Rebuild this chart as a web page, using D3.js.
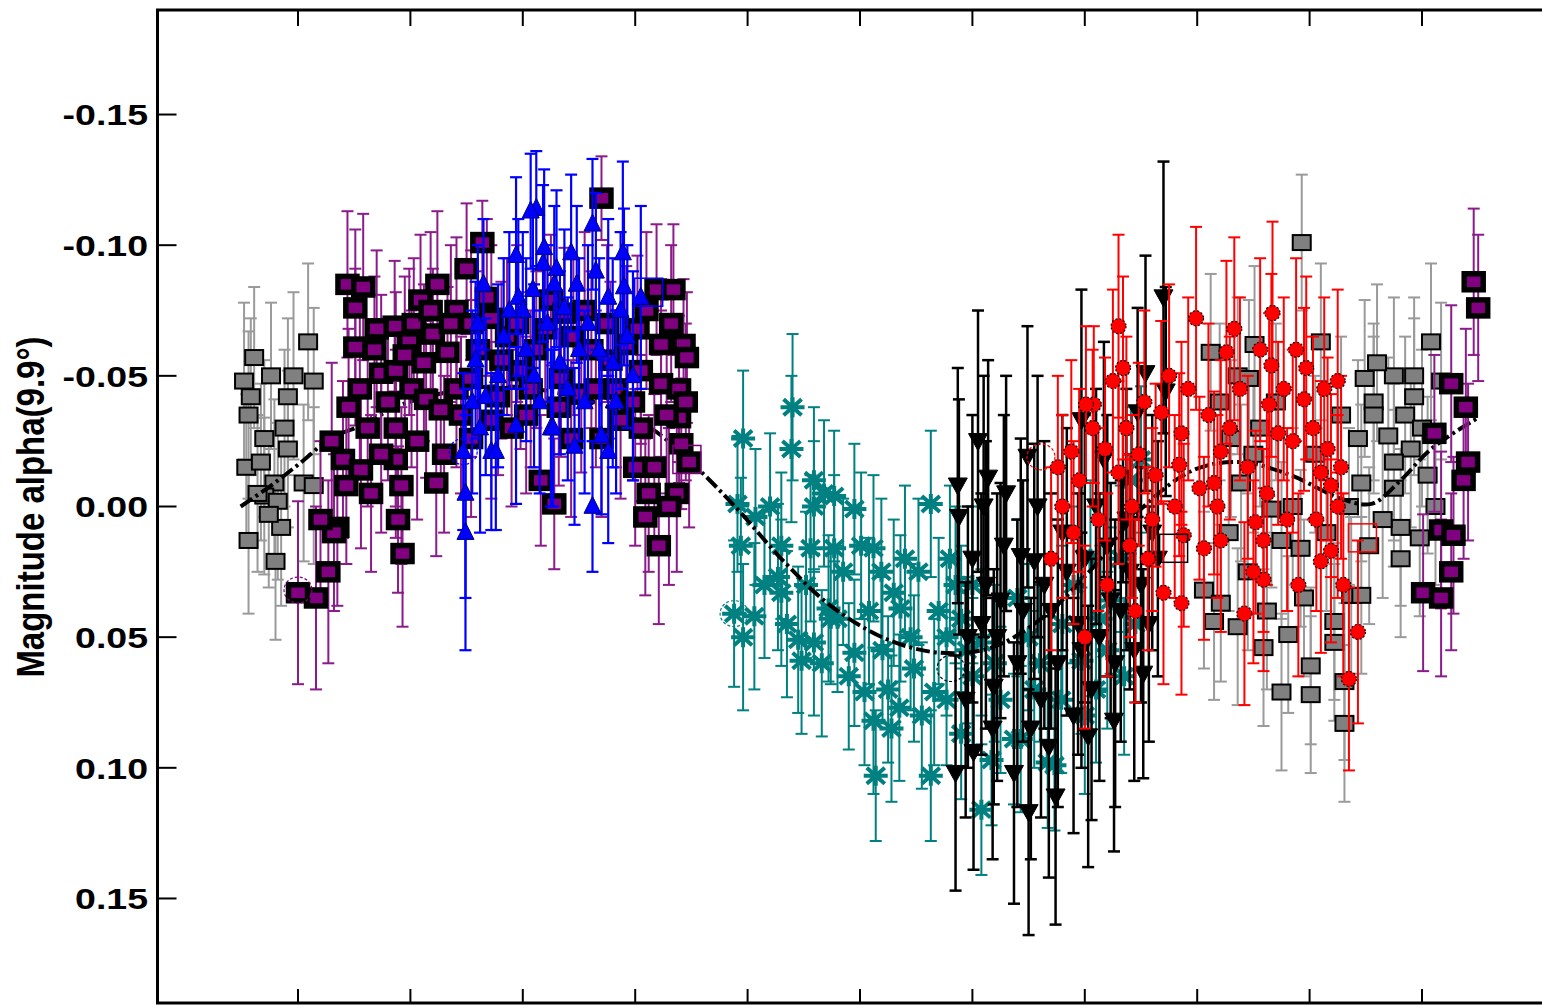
<!DOCTYPE html>
<html>
<head>
<meta charset="utf-8">
<script src="https://cdn.jsdelivr.net/npm/d3@7"></script>
<style>
  html, body { margin: 0; padding: 0; background: #fff; overflow: hidden; }
  svg { display: block; }
</style>
</head>
<body>
<div id="chart"></div>
<script>
// each point: [phase, magnitude, error]
const grayPts = [
  [-0.039,-0.057,0.027], [-0.048,-0.048,0.030], [-0.024,-0.050,0.028], [-0.004,-0.050,0.032],
  [0.009,-0.063,0.030], [0.014,-0.048,0.028], [-0.042,-0.042,0.030], [-0.044,-0.035,0.032],
  [-0.009,-0.042,0.030], [-0.030,-0.026,0.030], [-0.046,-0.015,0.028], [-0.033,-0.017,0.030],
  [-0.009,-0.022,0.030], [-0.021,-0.009,0.032], [-0.030,-0.004,0.030], [-0.018,-0.002,0.030],
  [-0.015,0.008,0.030], [-0.044,0.013,0.028], [-0.020,0.021,0.030], [0.005,-0.009,0.030],
  [0.014,-0.008,0.030], [-0.026,0.003,0.028], [-0.036,-0.005,0.030], [-0.012,-0.030,0.030],
  [0.893,-0.101,0.026], [0.910,-0.063,0.030], [0.851,-0.062,0.030], [1.008,-0.063,0.030],
  [0.812,-0.059,0.030], [0.949,-0.049,0.030], [0.975,-0.050,0.030], [0.993,-0.050,0.030],
  [1.017,-0.048,0.030], [0.993,-0.042,0.030], [0.957,-0.040,0.030], [0.957,-0.035,0.030],
  [0.836,-0.050,0.030], [0.943,-0.026,0.030], [0.970,-0.027,0.030], [0.990,-0.022,0.030],
  [0.975,-0.017,0.030], [0.975,-0.007,0.030], [0.946,-0.009,0.030], [0.981,0.008,0.030],
  [0.981,0.020,0.030], [0.806,0.032,0.030], [0.821,0.037,0.030], [0.836,0.046,0.030],
  [0.815,0.044,0.030], [0.881,0.049,0.030], [0.859,0.054,0.030], [0.901,0.061,0.030],
  [0.922,0.044,0.030], [0.922,0.052,0.030], [0.937,0.034,0.030], [0.946,0.034,0.030],
  [0.866,0.001,0.030], [0.875,0.013,0.030], [0.892,0.016,0.030], [0.839,-0.009,0.030],
  [0.875,0.071,0.030], [0.901,0.072,0.030], [0.931,0.083,0.030], [0.931,0.067,0.030],
  [0.846,-0.049,0.030], [0.830,-0.026,0.030], [0.856,-0.030,0.030],
  [0.820,-0.040,0.030], [0.828,0.010,0.030], [0.845,0.025,0.030], [0.850,-0.020,0.030],
  [0.862,0.040,0.030], [0.870,-0.040,0.030], [0.885,0.000,0.030], [0.895,0.035,0.030],
  [0.905,-0.020,0.030], [0.915,0.010,0.030], [0.928,-0.035,0.030], [0.935,0.000,0.030],
  [0.953,0.015,0.030], [0.960,-0.055,0.030], [0.965,0.005,0.030], [0.985,-0.035,0.030],
  [1.000,-0.030,0.030], [1.005,-0.012,0.030], [1.012,0.000,0.030], [0.998,0.012,0.030]
];

const purplePts = [
  [0.270,-0.118,0.016], [0.164,-0.101,0.016], [0.150,-0.091,0.025], [0.044,-0.085,0.028],
  [0.058,-0.084,0.028], [0.124,-0.085,0.028], [0.051,-0.076,0.030], [0.109,-0.079,0.025],
  [0.103,-0.070,0.025], [0.086,-0.069,0.025], [0.068,-0.060,0.028], [0.120,-0.066,0.025],
  [0.133,-0.059,0.025], [0.141,-0.075,0.028], [0.154,-0.070,0.028], [0.172,-0.072,0.028],
  [0.225,-0.079,0.025], [0.237,-0.074,0.025], [0.319,-0.083,0.025], [0.334,-0.083,0.025],
  [0.343,-0.062,0.025], [0.346,-0.057,0.025], [0.323,-0.062,0.025], [0.302,-0.068,0.028],
  [0.305,-0.052,0.028], [0.323,-0.047,0.028], [0.339,-0.045,0.028], [0.339,-0.034,0.025],
  [0.341,-0.024,0.025], [0.305,-0.030,0.028], [0.317,-0.015,0.028], [0.337,-0.005,0.030],
  [0.348,-0.017,0.025], [0.312,-0.005,0.030], [0.309,0.004,0.030], [0.321,0.015,0.030],
  [0.216,-0.010,0.025], [0.228,-0.001,0.025], [0.123,-0.009,0.028], [0.089,0.005,0.028],
  [0.093,0.018,0.028], [0.035,0.008,0.030], [0.040,-0.018,0.030], [0.027,0.025,0.035],
  [0.016,0.035,0.035], [0.000,0.033,0.035], [0.032,0.010,0.030], [0.045,-0.038,0.030],
  [0.055,-0.045,0.030], [0.074,-0.051,0.030], [0.087,-0.052,0.030], [0.101,-0.045,0.030],
  [0.087,-0.030,0.030], [0.114,-0.041,0.030], [0.127,-0.037,0.030], [0.141,-0.045,0.030],
  [0.154,-0.049,0.030], [0.181,-0.056,0.030], [0.198,-0.052,0.030], [0.207,-0.045,0.030],
  [0.234,-0.049,0.030], [0.252,-0.043,0.030], [0.261,-0.060,0.030], [0.278,-0.056,0.030],
  [0.287,-0.033,0.030], [0.270,-0.026,0.030], [0.243,-0.026,0.030], [0.190,-0.030,0.030],
  [0.172,-0.033,0.030], [0.154,-0.026,0.030], [0.087,-0.018,0.030], [0.074,-0.020,0.030],
  [0.056,-0.014,0.030], [0.092,-0.008,0.030], [0.065,-0.005,0.030], [0.043,-0.008,0.030],
  [0.051,-0.061,0.030], [0.099,-0.063,0.028],
  [0.020,0.005,0.030], [0.030,-0.025,0.030], [0.062,-0.030,0.030], [0.070,-0.068,0.030],
  [0.080,-0.040,0.030], [0.095,-0.058,0.030], [0.106,-0.025,0.030], [0.112,-0.055,0.030],
  [0.118,-0.075,0.030], [0.130,-0.020,0.030], [0.136,-0.070,0.030], [0.145,-0.035,0.030],
  [0.160,-0.060,0.030], [0.168,-0.080,0.030], [0.178,-0.042,0.030], [0.186,-0.065,0.030],
  [0.195,-0.070,0.030], [0.203,-0.035,0.030], [0.212,-0.060,0.030], [0.220,-0.068,0.030],
  [0.232,-0.038,0.030], [0.245,-0.065,0.030], [0.255,-0.075,0.030], [0.265,-0.045,0.030],
  [0.275,-0.070,0.030], [0.283,-0.045,0.030], [0.292,-0.062,0.030], [0.298,-0.040,0.030],
  [0.310,-0.075,0.030], [0.328,-0.035,0.030], [0.332,-0.070,0.030], [0.300,-0.015,0.030],
  [0.330,0.000,0.030], [0.345,-0.040,0.030],
  [1.046,-0.086,0.028], [1.050,-0.076,0.028], [1.026,-0.047,0.030], [1.039,-0.038,0.030],
  [1.011,-0.028,0.030], [1.041,-0.017,0.030], [1.037,-0.010,0.030], [1.017,0.009,0.030],
  [1.028,0.011,0.030], [1.026,0.025,0.030], [1.001,0.033,0.030], [1.017,0.035,0.030]
];

const bluePts = [
  [0.212,-0.114,0.022], [0.207,-0.113,0.022], [0.262,-0.108,0.025], [0.289,-0.097,0.035],
  [0.194,-0.096,0.030], [0.219,-0.099,0.030], [0.243,-0.097,0.030], [0.218,-0.093,0.030],
  [0.230,-0.091,0.030], [0.265,-0.090,0.030], [0.165,-0.085,0.025], [0.196,-0.080,0.030],
  [0.209,-0.083,0.030], [0.228,-0.085,0.030], [0.290,-0.084,0.030], [0.200,-0.075,0.030],
  [0.237,-0.076,0.030], [0.276,-0.080,0.030], [0.287,-0.075,0.030], [0.305,-0.080,0.035],
  [0.158,-0.056,0.030], [0.167,-0.042,0.030], [0.194,-0.031,0.030], [0.225,-0.030,0.030],
  [0.270,-0.027,0.030], [0.246,-0.023,0.030], [0.147,-0.021,0.030], [0.149,-0.005,0.040],
  [0.149,0.010,0.045], [0.172,-0.021,0.030], [0.176,-0.021,0.030], [0.262,0.000,0.025],
  [0.276,-0.021,0.035], [0.227,-0.030,0.030], [0.183,-0.065,0.030], [0.160,-0.070,0.030],
  [0.250,-0.060,0.035], [0.280,-0.055,0.040], [0.210,-0.050,0.035], [0.240,-0.045,0.035],
  [0.178,-0.050,0.035], [0.188,-0.075,0.030], [0.203,-0.060,0.035], [0.215,-0.040,0.035],
  [0.222,-0.070,0.030], [0.233,-0.055,0.035], [0.248,-0.085,0.030], [0.255,-0.040,0.035],
  [0.258,-0.070,0.030], [0.268,-0.060,0.035], [0.283,-0.040,0.035], [0.293,-0.065,0.035],
  [0.298,-0.050,0.040], [0.155,-0.040,0.035], [0.162,-0.030,0.040]
];

const tealPts = [
  [0.396,-0.026,0.026], [0.440,-0.038,0.028], [0.439,-0.022,0.028], [0.391,-0.001,0.026],
  [0.407,0.004,0.026], [0.394,0.015,0.026], [0.459,-0.010,0.028], [0.468,-0.005,0.028],
  [0.477,-0.004,0.025], [0.495,0.001,0.025], [0.459,0.000,0.025], [0.430,0.015,0.028],
  [0.456,0.016,0.028], [0.477,0.016,0.028], [0.501,0.015,0.028], [0.512,0.016,0.028],
  [0.563,-0.001,0.028], [0.519,0.025,0.028], [0.552,0.025,0.028], [0.427,0.027,0.028],
  [0.430,0.033,0.028], [0.406,0.042,0.028], [0.388,0.041,0.028], [0.396,0.050,0.028],
  [0.472,0.039,0.028], [0.480,0.043,0.028], [0.530,0.033,0.028], [0.536,0.039,0.028],
  [0.445,0.051,0.028], [0.459,0.052,0.028], [0.448,0.059,0.028], [0.474,0.043,0.025],
  [0.504,0.071,0.028], [0.525,0.070,0.028], [0.495,0.056,0.028], [0.548,0.062,0.028],
  [0.566,0.071,0.028], [0.535,0.077,0.028], [0.512,0.082,0.028], [0.514,0.103,0.025],
  [0.563,0.103,0.025], [0.608,0.116,0.025], [0.673,0.099,0.025], [0.637,0.089,0.025],
  [0.617,0.097,0.025], [0.590,0.087,0.025], [0.577,0.074,0.025], [0.625,0.074,0.028],
  [0.643,0.089,0.028], [0.667,0.098,0.025], [0.679,0.074,0.028], [0.697,0.059,0.028],
  [0.710,0.070,0.028], [0.714,0.043,0.028], [0.723,0.036,0.028], [0.732,0.020,0.028],
  [0.741,-0.010,0.028], [0.750,-0.018,0.028], [0.590,0.043,0.028], [0.608,0.052,0.028],
  [0.650,0.050,0.028], [0.690,0.030,0.030], [0.660,0.060,0.030], [0.600,0.065,0.030],
  [0.577,0.050,0.030],
  [0.600,0.030,0.030], [0.620,0.060,0.030], [0.640,0.035,0.030], [0.655,0.070,0.030],
  [0.680,0.045,0.030], [0.700,0.080,0.030], [0.720,0.055,0.030], [0.735,0.065,0.030],
  [0.745,0.045,0.030], [0.705,0.020,0.030], [0.585,0.030,0.030], [0.595,0.055,0.028],
  [0.420,0.000,0.028], [0.435,0.045,0.028], [0.452,0.030,0.028], [0.466,0.060,0.028],
  [0.485,0.025,0.028], [0.490,0.065,0.028], [0.508,0.040,0.028], [0.520,0.055,0.028],
  [0.540,0.020,0.028], [0.545,0.050,0.028], [0.555,0.080,0.028], [0.570,0.040,0.028],
  [0.580,0.020,0.028], [0.528,0.085,0.028], [0.415,0.030,0.028]
];

const blackPts = [
  [0.587,-0.008,0.045], [0.588,0.004,0.045], [0.605,-0.025,0.050], [0.614,-0.011,0.045],
  [0.649,-0.019,0.050], [0.697,-0.033,0.050], [0.717,-0.018,0.045], [0.734,-0.011,0.040],
  [0.747,-0.036,0.040], [0.754,-0.051,0.045], [0.770,-0.080,0.052], [0.772,-0.044,0.040],
  [0.643,0.019,0.045], [0.655,0.021,0.045], [0.625,0.036,0.045], [0.637,0.102,0.050],
  [0.674,0.111,0.049], [0.650,0.117,0.047], [0.601,0.094,0.045], [0.585,0.102,0.045],
  [0.752,0.064,0.040], [0.619,0.069,0.045], [0.697,0.055,0.045], [0.661,0.074,0.045],
  [0.594,0.074,0.045], [0.723,0.036,0.045], [0.680,0.010,0.045], [0.710,0.000,0.045],
  [0.740,0.025,0.045], [0.690,0.080,0.045], [0.760,0.010,0.045], [0.630,-0.005,0.045],
  [0.670,0.040,0.045],
  [0.600,0.020,0.055], [0.608,0.045,0.050], [0.612,0.030,0.055], [0.622,0.050,0.055],
  [0.628,0.015,0.050], [0.640,0.060,0.055], [0.645,0.040,0.050], [0.652,0.085,0.050],
  [0.658,0.000,0.050], [0.664,0.030,0.055], [0.676,0.060,0.055], [0.684,0.025,0.055],
  [0.694,0.045,0.050], [0.700,0.020,0.055], [0.706,0.070,0.050], [0.713,0.050,0.055],
  [0.720,0.015,0.050], [0.727,0.060,0.055], [0.732,0.040,0.050], [0.737,0.005,0.050],
  [0.744,0.055,0.050], [0.750,0.030,0.045], [0.757,0.045,0.045], [0.765,0.020,0.045],
  [0.596,0.050,0.050], [0.618,0.085,0.050], [0.703,0.088,0.050], [0.668,0.092,0.050],
  [0.726,0.082,0.050], [0.610,0.000,0.050]
];

const redPts = [
  [0.730,-0.069,0.035], [0.734,-0.053,0.035], [0.725,-0.048,0.035], [0.708,-0.039,0.030],
  [0.701,-0.039,0.030], [0.707,-0.030,0.030], [0.753,-0.040,0.035], [0.768,-0.036,0.035],
  [0.688,-0.021,0.035], [0.676,-0.015,0.035], [0.730,-0.013,0.035], [0.786,-0.028,0.035],
  [0.799,-0.072,0.035], [0.833,-0.068,0.035], [0.826,-0.059,0.035], [0.867,-0.074,0.035],
  [0.866,-0.054,0.035], [0.925,-0.048,0.035], [0.897,-0.053,0.035], [0.895,-0.041,0.035],
  [0.864,-0.039,0.035], [0.784,-0.016,0.035], [0.821,-0.021,0.035], [0.802,-0.007,0.035],
  [0.815,-0.009,0.035], [0.872,-0.028,0.035], [0.910,-0.013,0.035], [0.919,-0.008,0.035],
  [0.928,-0.015,0.035], [0.916,-0.022,0.035], [0.786,0.037,0.035], [0.806,0.016,0.035],
  [0.821,0.013,0.035], [0.859,0.013,0.035], [0.852,0.006,0.035], [0.842,0.041,0.035],
  [0.859,0.028,0.035], [0.910,0.021,0.035], [0.919,0.017,0.035], [0.943,0.048,0.035],
  [0.935,0.066,0.035], [0.770,0.033,0.035], [0.788,0.011,0.035], [0.690,0.010,0.035],
  [0.670,0.020,0.035], [0.720,0.030,0.035], [0.745,0.040,0.035], [0.760,0.005,0.035],
  [0.700,0.050,0.035], [0.740,0.015,0.035],
  [0.680,0.000,0.035], [0.695,-0.010,0.035], [0.712,0.005,0.035], [0.718,-0.022,0.035],
  [0.737,-0.030,0.035], [0.742,0.000,0.035], [0.748,-0.020,0.035], [0.756,0.020,0.035],
  [0.763,-0.012,0.035], [0.775,-0.050,0.035], [0.780,0.000,0.035], [0.792,-0.045,0.035],
  [0.810,-0.035,0.035], [0.818,0.000,0.035], [0.829,-0.030,0.035], [0.838,-0.045,0.035],
  [0.845,-0.015,0.035], [0.850,0.025,0.035], [0.856,-0.060,0.035], [0.862,-0.005,0.035],
  [0.877,-0.045,0.035], [0.880,0.005,0.035], [0.885,-0.025,0.035], [0.890,0.030,0.035],
  [0.903,-0.030,0.035], [0.906,0.005,0.035], [0.913,-0.045,0.035], [0.925,0.000,0.035],
  [0.930,0.030,0.035], [0.888,-0.060,0.035]
];

// fitted light curve
const fitPhase = [-0.051,-0.024,0.003,0.029,0.056,0.092,0.136,0.181,0.225,0.270,0.314,0.352,0.391,
  0.430,0.474,0.525,0.572,0.617,0.661,0.706,0.750,0.797,0.839,0.883,0.928,0.955,0.981,1.008,1.050];
const fitMag = [0.000,-0.008,-0.017,-0.026,-0.031,-0.039,-0.044,-0.046,-0.044,-0.039,-0.030,-0.016,0.001,
  0.020,0.038,0.051,0.056,0.054,0.043,0.024,0.001,-0.014,-0.017,-0.012,-0.003,-0.001,-0.010,-0.022,-0.034];

// open squares and dashed rings
const openSquares = [[0.312,-0.082,"#0000ff"], [0.346,-0.018,"#800080"], [0.947,0.012,"#ff0000"], [0.779,0.016,"#000000"]];
const rings = [[0.000,0.032,"#800080"], [0.147,-0.021,"#0000ff"], [0.388,0.041,"#008080"], [0.581,0.062,"#000000"], [0.661,-0.019,"#ff0000"]];

const yTicks = [-0.15, -0.10, -0.05, 0.00, 0.05, 0.10, 0.15];
const xTicks = [0.0, 0.1, 0.2, 0.3, 0.4, 0.5, 0.6, 0.7, 0.8, 0.9, 1.0];

const width = 1542, height = 1005;
const plot = { left: 157.5, right: 1562.5, top: 10, bottom: 1003 };

const svg = d3.select("#chart").append("svg").attr("width", width).attr("height", height);

const x = d3.scaleLinear().domain([-0.125, 1.125]).range([plot.left, plot.right]);
const y = d3.scaleLinear().domain([-0.19, 0.19]).range([plot.top, plot.bottom]);

const tri = (s, up) => up
  ? `M0,${-s*0.6}L${s/2},${s*0.4}L${-s/2},${s*0.4}Z`
  : `M0,${s*0.5}L${s/2},${-s*0.4}L${-s/2},${-s*0.4}Z`;

function drawSeries(data, o) {
  const g = svg.append("g");
  const eb = g.append("g").attr("stroke", o.bar).attr("stroke-width", o.barW || 2).attr("fill", "none");
  data.forEach(d => {
    const cx = x(d[0]), y0 = y(d[1] - d[2]), y1 = y(d[1] + d[2]);
    eb.append("line").attr("x1", cx).attr("x2", cx).attr("y1", y0).attr("y2", y1);
    eb.append("line").attr("x1", cx - 6).attr("x2", cx + 6).attr("y1", y0).attr("y2", y0);
    eb.append("line").attr("x1", cx - 6).attr("x2", cx + 6).attr("y1", y1).attr("y2", y1);
  });
  const m = g.append("g");
  data.forEach(d => {
    const cx = x(d[0]), cy = y(d[1]);
    if (o.shape === "square") {
      m.append("rect").attr("x", cx - o.w / 2).attr("y", cy - o.h / 2)
        .attr("width", o.w).attr("height", o.h)
        .attr("fill", o.fill).attr("stroke", "#000").attr("stroke-width", o.sw);
    } else if (o.shape === "up" || o.shape === "down") {
      m.append("path").attr("d", tri(o.size || 17, o.shape === "up"))
        .attr("transform", `translate(${cx},${cy})`)
        .attr("fill", o.fill).attr("stroke", o.edge).attr("stroke-width", 1);
    } else if (o.shape === "star") {
      m.append("path")
        .attr("d", "M-12,0L12,0M0,-10L0,10M-9,-8L9,8M-9,8L9,-8")
        .attr("transform", `translate(${cx},${cy})`)
        .attr("stroke", o.fill).attr("stroke-width", 4).attr("fill", "none");
    } else if (o.shape === "circle") {
      m.append("circle").attr("cx", cx).attr("cy", cy).attr("r", 7.5)
        .attr("fill", o.fill).attr("stroke", "#000").attr("stroke-width", 1.2)
        .attr("stroke-dasharray", "2,2");
    }
  });
}

drawSeries(grayPts, { shape: "square", fill: "#808080", bar: "#9a9a9a", w: 18, h: 15, sw: 2 });
drawSeries(tealPts, { shape: "star", fill: "#008080", bar: "#008080" });

svg.append("path")
  .datum(d3.zip(fitPhase, fitMag))
  .attr("d", d3.line().x(d => x(d[0])).y(d => y(d[1])).curve(d3.curveCatmullRom))
  .attr("fill", "none").attr("stroke", "#000").attr("stroke-width", 4)
  .attr("stroke-dasharray", "14,4,3,4");

drawSeries(purplePts, { shape: "square", fill: "#800080", bar: "#8b1a8b", w: 19, h: 16, sw: 5.5 });
drawSeries(bluePts, { shape: "up", fill: "#0000ff", edge: "#000080", bar: "#0000ff", barW: 2.2 });
drawSeries(blackPts, { shape: "down", fill: "#000", edge: "#000", bar: "#000", barW: 2.5, size: 19 });
drawSeries(redPts, { shape: "circle", fill: "#ff0000", bar: "#ff0000" });

svg.append("g").selectAll("rect").data(openSquares).join("rect")
  .attr("x", d => x(d[0]) - 14).attr("y", d => y(d[1]) - 14)
  .attr("width", 28).attr("height", 28)
  .attr("fill", "none").attr("stroke", d => d[2]).attr("stroke-width", 1.5);

svg.append("g").selectAll("ellipse").data(rings).join("ellipse")
  .attr("cx", d => x(d[0])).attr("cy", d => y(d[1]))
  .attr("rx", 14).attr("ry", 13)
  .attr("fill", "none").attr("stroke", d => d[2]).attr("stroke-width", 1.2)
  .attr("stroke-dasharray", "3,2");

// frame
svg.append("rect")
  .attr("x", plot.left).attr("y", plot.top)
  .attr("width", plot.right - plot.left).attr("height", plot.bottom - plot.top)
  .attr("fill", "none").attr("stroke", "#000").attr("stroke-width", 3);

// inward ticks on all four sides
const tk = svg.append("g").attr("stroke", "#000").attr("stroke-width", 2);
yTicks.forEach(v => {
  tk.append("line").attr("x1", plot.left).attr("x2", plot.left + 19).attr("y1", y(v)).attr("y2", y(v));
  tk.append("line").attr("x1", plot.right).attr("x2", plot.right - 19).attr("y1", y(v)).attr("y2", y(v));
});
xTicks.forEach(v => {
  tk.append("line").attr("x1", x(v)).attr("x2", x(v)).attr("y1", plot.top).attr("y2", plot.top + 16);
  tk.append("line").attr("x1", x(v)).attr("x2", x(v)).attr("y1", plot.bottom).attr("y2", plot.bottom - 14);
});

// tick labels (slightly stretched horizontally like the original)
const fmt = d3.format(".2f");
svg.append("g").selectAll("text").data(yTicks).join("text")
  .attr("transform", d => `translate(148,${y(d)}) scale(1.25,1)`)
  .attr("text-anchor", "end").attr("dy", "0.36em")
  .style("font-family", "'Liberation Sans', Arial, sans-serif")
  .style("font-weight", "bold").style("font-size", "30px")
  .text(d => fmt(d).replace("−", "-"));

svg.append("text")
  .attr("transform", `translate(31,507) scale(1.16,1) rotate(-90)`)
  .attr("text-anchor", "middle").attr("dy", "0.35em")
  .style("font-family", "'Liberation Sans', Arial, sans-serif")
  .style("font-weight", "bold").style("font-size", "33px")
  .text("Magnitude alpha(9.9°)");
</script>
</body>
</html>
